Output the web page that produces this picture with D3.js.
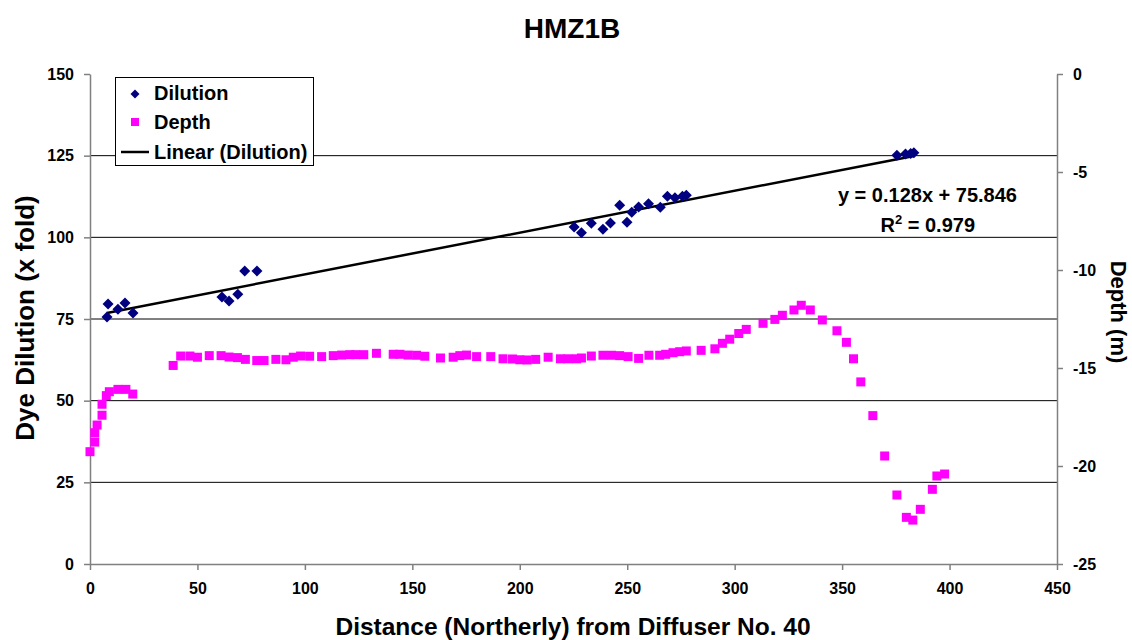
<!DOCTYPE html>
<html><head><meta charset="utf-8">
<script src="https://cdn.jsdelivr.net/npm/d3@7"></script>
<style>body{margin:0;background:#fff;} text{font-family:"Liberation Sans",Arial,sans-serif;font-weight:bold;}</style>
</head><body><svg id="c" width="1132" height="640"></svg>
<script>
const dilutionX = [7.9,8.4,13,16.3,20,61.4,64.7,68.8,72,77.7,225.3,228.7,233.3,238.7,242.2,246.5,249.9,252.1,255.3,259.9,265.4,268.7,272.2,275.7,277.5,375.5,379.5,381.9,383.4];
const dilutionY = [75.6,79.6,78,79.9,76.8,81.7,80.5,82.6,89.7,89.7,103.2,101.4,104.3,102.5,104.4,109.8,104.6,107.7,109.3,110.3,109.2,112.6,112.1,112.6,112.9,125.1,125.5,125.7,125.9];
const depthX = [0,2.2,2.2,3.3,5.6,5.6,7.6,9.0,13.0,16.7,19.9,38.7,42.2,46.5,50.0,55.5,61.0,64.7,68.6,72.3,77.6,81.0,86.5,91.2,94.6,98.0,102.2,107.8,113.2,117.1,120.9,123.7,127.4,133.3,141.1,144.2,148.0,152.0,155.8,163.1,169.0,172.1,175.2,179.9,186.5,192.2,196.6,200.0,203.4,207.4,213.2,218.9,222.5,226.4,228.7,233.3,238.7,242.7,246.5,250.4,255.3,260.1,265.1,267.9,271.3,274.4,277.5,284.4,290.8,294.3,297.7,301.9,305.4,313.2,318.7,322.2,327.6,331.0,335.2,340.8,347.6,352.0,355.3,358.7,364.3,369.8,375.5,379.9,382.9,386.4,392.0,394.1,397.7];
const depthY = [-19.27,-18.78,-18.30,-17.91,-17.41,-16.85,-16.41,-16.21,-16.09,-16.09,-16.33,-14.87,-14.39,-14.39,-14.45,-14.37,-14.37,-14.44,-14.47,-14.56,-14.62,-14.62,-14.56,-14.58,-14.45,-14.39,-14.40,-14.42,-14.37,-14.34,-14.32,-14.32,-14.32,-14.25,-14.30,-14.30,-14.34,-14.35,-14.40,-14.49,-14.45,-14.37,-14.34,-14.42,-14.42,-14.53,-14.54,-14.58,-14.59,-14.56,-14.45,-14.53,-14.53,-14.53,-14.49,-14.39,-14.35,-14.35,-14.37,-14.42,-14.51,-14.35,-14.35,-14.30,-14.22,-14.17,-14.13,-14.10,-14.02,-13.74,-13.53,-13.24,-13.03,-12.72,-12.52,-12.31,-12.04,-11.80,-12.04,-12.55,-13.10,-13.69,-14.53,-15.71,-17.43,-19.49,-21.48,-22.62,-22.76,-22.21,-21.19,-20.51,-20.41];
const xTicks = [0,50,100,150,200,250,300,350,400,450];
const leftTicks = [0,25,50,75,100,125,150];
const rightTicks = [0,-5,-10,-15,-20,-25];
const trendSlope = 0.128, trendIntercept = 75.846;
const trendRange = [7.9, 383.4];
const title = "HMZ1B";

const svg = d3.select("#c");
const L=90, R=1057, T=74, B=564;
const x = d3.scaleLinear().domain([0,450]).range([L,R]);
const yL = d3.scaleLinear().domain([0,150]).range([B,T]);
const yR = d3.scaleLinear().domain([-25,0]).range([B,T]);

// gridlines
svg.append("g").selectAll("line").data(leftTicks.filter(d=>d>0&&d<150)).join("line")
  .attr("x1",L).attr("x2",R).attr("y1",d=>yL(d)).attr("y2",d=>yL(d))
  .attr("stroke","#000").attr("stroke-width",1);

// axes
const ax = svg.append("g").attr("transform",`translate(0,${B})`).call(d3.axisBottom(x).tickValues(xTicks).tickSize(6).tickSizeOuter(0).tickPadding(13));
const ayl = svg.append("g").attr("transform",`translate(${L},0)`).call(d3.axisLeft(yL).tickValues(leftTicks).tickSize(6).tickSizeOuter(0).tickPadding(10));
const ayr = svg.append("g").attr("transform",`translate(${R},0)`).call(d3.axisRight(yR).tickValues(rightTicks).tickFormat(d=>String(d)).tickSize(6).tickSizeOuter(0).tickPadding(10));
[ax,ayl,ayr].forEach(g=>{
  g.selectAll("path,line").attr("stroke","#808080").attr("stroke-width",1.5);
  g.selectAll("text").attr("font-size",16).attr("font-weight","bold").attr("fill","#000")
   .attr("font-family","Liberation Sans, Arial, sans-serif");
});

// depth squares
svg.append("g").selectAll("rect").data(depthX.map((d,i)=>[d,depthY[i]])).join("rect")
  .attr("x",d=>x(d[0])-4.5).attr("y",d=>yR(d[1])-4.5).attr("width",9).attr("height",9)
  .attr("fill","#FF00FF");

// trendline
svg.append("line").attr("x1",x(trendRange[0])).attr("y1",yL(trendSlope*trendRange[0]+trendIntercept))
  .attr("x2",x(trendRange[1])).attr("y2",yL(trendSlope*trendRange[1]+trendIntercept))
  .attr("stroke","#000").attr("stroke-width",2.5);

// dilution diamonds
const diamond = "M0,-5.5L5.5,0L0,5.5L-5.5,0Z";
svg.append("g").selectAll("path").data(dilutionX.map((d,i)=>[d,dilutionY[i]])).join("path")
  .attr("d",diamond).attr("transform",d=>`translate(${x(d[0])},${yL(d[1])})`).attr("fill","#000080");

// title
svg.append("text").attr("x",572).attr("y",38).attr("text-anchor","middle").attr("font-size",28).text(title);
// axis titles
svg.append("text").attr("x",573).attr("y",635).attr("text-anchor","middle").attr("font-size",24.5).text("Distance (Northerly) from Diffuser No. 40");
svg.append("text").attr("transform",`translate(34,${(T+B)/2-1}) rotate(-90)`).attr("text-anchor","middle").attr("font-size",26).text("Dye Dilution (x fold)");
svg.append("text").attr("transform",`translate(1111,${(T+B)/2-7}) rotate(90)`).attr("text-anchor","middle").attr("font-size",22).text("Depth (m)");

// equation
svg.append("text").attr("x",1017).attr("y",202).attr("text-anchor","end").attr("font-size",20).text("y = 0.128x + 75.846");
const r2 = svg.append("text").attr("x",975).attr("y",232).attr("text-anchor","end").attr("font-size",20);
r2.append("tspan").text("R");
r2.append("tspan").attr("dy",-8).attr("font-size",13).text("2");
r2.append("tspan").attr("dy",8).text(" = 0.979");

// legend
const lg = svg.append("g");
lg.append("rect").attr("x",115.5).attr("y",77.5).attr("width",198).attr("height",88).attr("fill","#fff").attr("stroke","#000").attr("stroke-width",1);
lg.append("path").attr("d","M0,-4.5L4.5,0L0,4.5L-4.5,0Z").attr("transform","translate(135,94)").attr("fill","#000080");
lg.append("rect").attr("x",131).attr("y",118).attr("width",8).attr("height",8).attr("fill","#FF00FF");
lg.append("line").attr("x1",121).attr("x2",149).attr("y1",152).attr("y2",152).attr("stroke","#000").attr("stroke-width",2.5);
[["Dilution",100],["Depth",129],["Linear (Dilution)",159]].forEach(([t,yy])=>{
  lg.append("text").attr("x",154).attr("y",yy).attr("font-size",20).text(t);
});
</script></body></html>
